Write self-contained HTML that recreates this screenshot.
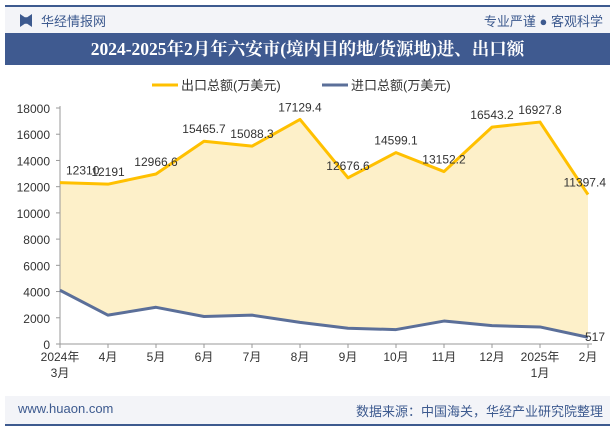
<!DOCTYPE html>
<html><head><meta charset="utf-8"><style>
body{margin:0;width:615px;height:427px;overflow:hidden;background:#fff;font-family:"Liberation Sans","Noto Sans CJK SC",sans-serif;position:relative}
.abs{position:absolute}
</style></head><body>
<div class="abs" style="left:5px;top:5px;width:605px;height:2px;background:#3d5a8f"></div>
<div class="abs" style="left:5px;top:7px;width:605px;height:26px;background:#f3f4f8"></div>
<div class="abs" style="left:20px;top:14px;width:12px;height:13px;background:#3d5a8f;clip-path:polygon(0 0,40% 25%,60% 25%,100% 0,100% 100%,60% 75%,40% 75%,0 100%)"></div>
<div class="abs" style="left:41px;top:11px;font-size:13px;color:#3d5a8f">华经情报网</div>
<div class="abs" style="right:12px;top:11px;font-size:13px;color:#3d5a8f">专业严谨 ● 客观科学</div>
<div class="abs" style="left:5px;top:33px;width:605px;height:32px;background:#3f5a90;color:#fff;font-family:'Liberation Serif','Noto Serif CJK SC',serif;font-weight:bold;font-size:17.5px;text-align:center;line-height:32px">2024-2025年2月年六安市(境内目的地/货源地)进、出口额</div>
<div class="abs" style="left:5px;top:396px;width:605px;height:28px;background:#f3f4f8"></div>
<div class="abs" style="left:5px;top:424px;width:605px;height:2px;background:#3d5a8f"></div>
<div class="abs" style="left:18px;top:401px;font-size:13px;color:#3d5a8f">www.huaon.com</div>
<div class="abs" style="right:12px;top:401px;font-size:13px;color:#3d5a8f">数据来源：中国海关，华经产业研究院整理</div>
<svg class="abs" style="left:0;top:0" width="615" height="427" id="chart"></svg>
<script>
const categories=["2024年\n3月","4月","5月","6月","7月","8月","9月","10月","11月","12月","2025年\n1月","2月"];
const exportVals=[12310,12191,12966.6,15465.7,15088.3,17129.4,12676.6,14599.1,13152.2,16543.2,16927.8,11397.4];
const importVals=[4100,2200,2800,2100,2200,1650,1200,1100,1750,1400,1300,517];
const yTicks=[0,2000,4000,6000,8000,10000,12000,14000,16000,18000];
const exportLabels=["12310","12191","12966.6","15465.7","15088.3","17129.4","12676.6","14599.1","13152.2","16543.2","16927.8","11397.4"];
const svg=document.getElementById('chart');const NS="http://www.w3.org/2000/svg";
const x0=60,dx=48,yb=344,yt=108,ymax=18000;
const X=i=>x0+i*dx, Y=v=>yb-(v/ymax)*(yb-yt);
function mk(t,a,p){const e=document.createElementNS(NS,t);for(const k in a)e.setAttribute(k,a[k]);(p||svg).appendChild(e);return e;}
let e=mk('line',{x1:152,y1:85,x2:178,y2:85,stroke:'#ffc000','stroke-width':3});

e=mk('text',{x:181,y:90,'font-size':13,fill:'#333'});e.textContent='出口总额(万美元)';

e=mk('line',{x1:322,y1:85,x2:348,y2:85,stroke:'#5b6f99','stroke-width':3});

e=mk('text',{x:351,y:90,'font-size':13,fill:'#333'});e.textContent='进口总额(万美元)';

let pts=exportVals.map((v,i)=>X(i)+','+Y(v)).join(' ');
e=mk('polygon',{points:X(0)+','+yb+' '+pts+' '+X(exportVals.length-1)+','+yb,fill:'#fdf0c9'});

let ipts=importVals.map((v,i)=>X(i)+','+Y(v)).join(' ');
e=mk('polygon',{points:X(0)+','+yb+' '+ipts+' '+X(importVals.length-1)+','+yb,fill:'#fff'});

e=mk('line',{x1:x0,y1:yt-2,x2:x0,y2:yb,stroke:'#999'});
e=mk('line',{x1:x0,y1:yb,x2:X(11)+4,y2:yb,stroke:'#999'});
yTicks.forEach(t=>{const l=mk('line',{x1:x0-4,y1:Y(t),x2:x0,y2:Y(t),stroke:'#999'});

const tx=mk('text',{x:50,y:Y(t)+5,'font-size':12,fill:'#333','text-anchor':'end'});tx.textContent=t;
});
categories.forEach((c,i)=>{const l=mk('line',{x1:X(i),y1:yb,x2:X(i),y2:yb+4,stroke:'#999'});

c.split('\n').forEach((s,j)=>{const tx=mk('text',{x:X(i),y:yb+17+j*16,'font-size':12,fill:'#333','text-anchor':'middle'});tx.textContent=s;
});});
e=mk('polyline',{points:pts,fill:'none',stroke:'#ffc000','stroke-width':3,'stroke-linejoin':'round'});

e=mk('polyline',{points:ipts,fill:'none',stroke:'#5b6f99','stroke-width':3,'stroke-linejoin':'round'});

exportVals.forEach((v,i)=>{let x=X(i),anc='middle';if(i==0){x=X(0)+6;anc='start';}if(i==11){x=X(11)+18;anc='end';}
const tx=mk('text',{x:x,y:Y(v)-8,'font-size':12,fill:'#333','text-anchor':anc});tx.textContent=exportLabels[i];
});
e=mk('text',{x:X(11)-3,y:Y(importVals[11])+4,'font-size':12,fill:'#333'});e.textContent=String(importVals[11]);

</script>
</body></html>
